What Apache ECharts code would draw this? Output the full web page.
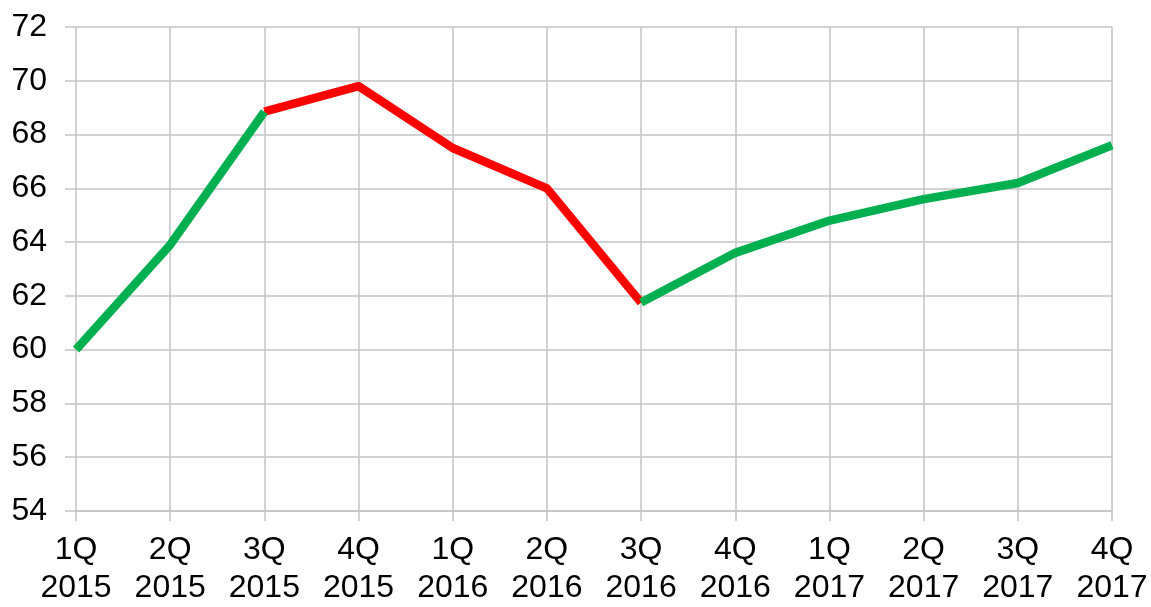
<!DOCTYPE html>
<html><head><meta charset="utf-8">
<script src="https://cdn.jsdelivr.net/npm/echarts@6/dist/echarts.min.js"></script>
<style>html,body{margin:0;padding:0;background:#fff}#c{width:1151px;height:607px}</style>
</head><body><div id="c"></div>
<script>
const categories = ['1Q\n2015','2Q\n2015','3Q\n2015','4Q\n2015','1Q\n2016','2Q\n2016','3Q\n2016','4Q\n2016','1Q\n2017','2Q\n2017','3Q\n2017','4Q\n2017'];
const greenValues = [60.0, 63.9, 68.85, null, null, null, 61.75, 63.6, 64.8, 65.6, 66.2, 67.6];
const redValues = [null, null, 68.85, 69.8, 67.5, 66.0, 61.75, null, null, null, null, null];
const yTicks = {min: 54, max: 72, interval: 2};

const gridColor = '#c3c3c3';
const font = {fontFamily: 'Liberation Sans, Arial, sans-serif', fontSize: 32, color: '#000'};
const chart = echarts.init(document.getElementById('c'));
chart.setOption({
  animation: false,
  grid: {left: 76, right: 39, top: 27, bottom: 91, containLabel: false},
  xAxis: {
    type: 'category', data: categories, boundaryGap: false,
    axisLine: {show: true, lineStyle: {color: gridColor, width: 1.5}},
    axisTick: {show: true, length: 10, lineStyle: {color: gridColor, width: 1.5}},
    splitLine: {show: true, lineStyle: {color: gridColor, width: 1.5}},
    axisLabel: Object.assign({margin: 20, lineHeight: 38, interval: 0}, font)
  },
  yAxis: {
    type: 'value', min: yTicks.min, max: yTicks.max, interval: yTicks.interval,
    axisLine: {show: false},
    axisTick: {show: true, length: 11, lineStyle: {color: gridColor, width: 1.5}},
    splitLine: {show: true, lineStyle: {color: gridColor, width: 1.5}},
    axisLabel: Object.assign({margin: 29}, font)
  },
  series: [
    {type: 'line', data: greenValues, symbol: 'none', connectNulls: false,
     lineStyle: {color: '#00B050', width: 8.5, cap: 'butt', join: 'round'}, z: 3},
    {type: 'line', data: redValues, symbol: 'none', connectNulls: false,
     lineStyle: {color: '#FF0000', width: 8.5, cap: 'butt', join: 'round'}, z: 2}
  ]
});
</script></body></html>
